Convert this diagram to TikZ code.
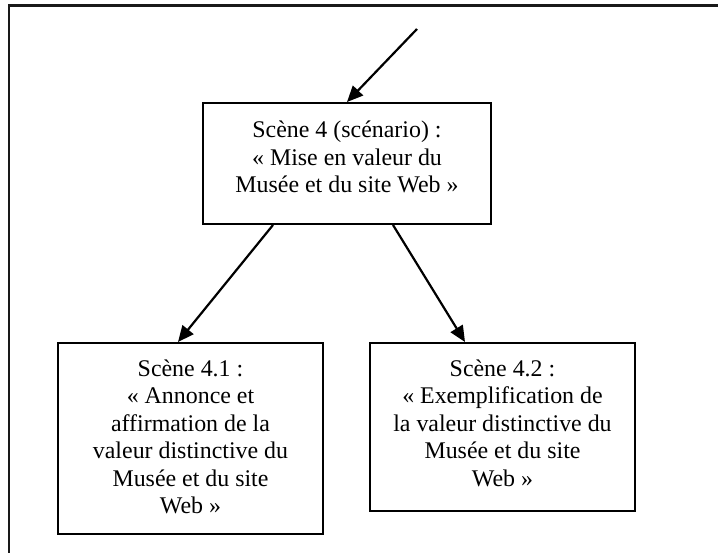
\documentclass[tikz,border=0pt]{standalone}
\usepackage{fontspec}
\setmainfont{Liberation Serif}
\usetikzlibrary{arrows.meta}
\newcommand\scenebox[4]{\parbox[b][#2][t]{#1}{\centering\fontsize{23.9}{27.5}\selectfont\rule{0pt}{#3}#4\par}}
\tikzset{
  scene/.style={draw, line width=2pt, inner sep=0pt, anchor=north west},
  conn/.style={line width=2.2pt, -{Triangle[length=16pt,width=14pt]}},
  frameline/.style={line width=2.2pt, draw=black!90}
}
\begin{document}
\begin{tikzpicture}[x=1pt,y=-1pt]
\useasboundingbox (0,0) rectangle (718,553);
\draw[frameline] (9,553) -- (9,5.5) -- (718,5.5);
\node[scene] (s4) at (202,102) {\scenebox{288pt}{121pt}{35pt}{Scène 4 (scénario) :\\ «~Mise en valeur du\\ Musée et du site Web~»}};
\node[scene] (s41) at (57,342) {\scenebox{265pt}{191pt}{33pt}{Scène 4.1 :\\ «~Annonce et\\ affirmation de la\\ valeur distinctive du\\ Musée et du site\\ Web~»}};
\node[scene] (s42) at (369,342) {\scenebox{265pt}{168pt}{33pt}{Scène 4.2 :\\ «~Exemplification de\\ la valeur distinctive du\\ Musée et du site\\ Web~»}};
\coordinate (in) at (417,29);
\draw[conn] (in) -- ([xshift=145pt]s4.north west);
\draw[conn] ([xshift=71pt]s4.south west) -- ([xshift=121pt]s41.north west);
\draw[conn] ([xshift=191pt]s4.south west) -- ([xshift=96pt]s42.north west);
\end{tikzpicture}
\end{document}
